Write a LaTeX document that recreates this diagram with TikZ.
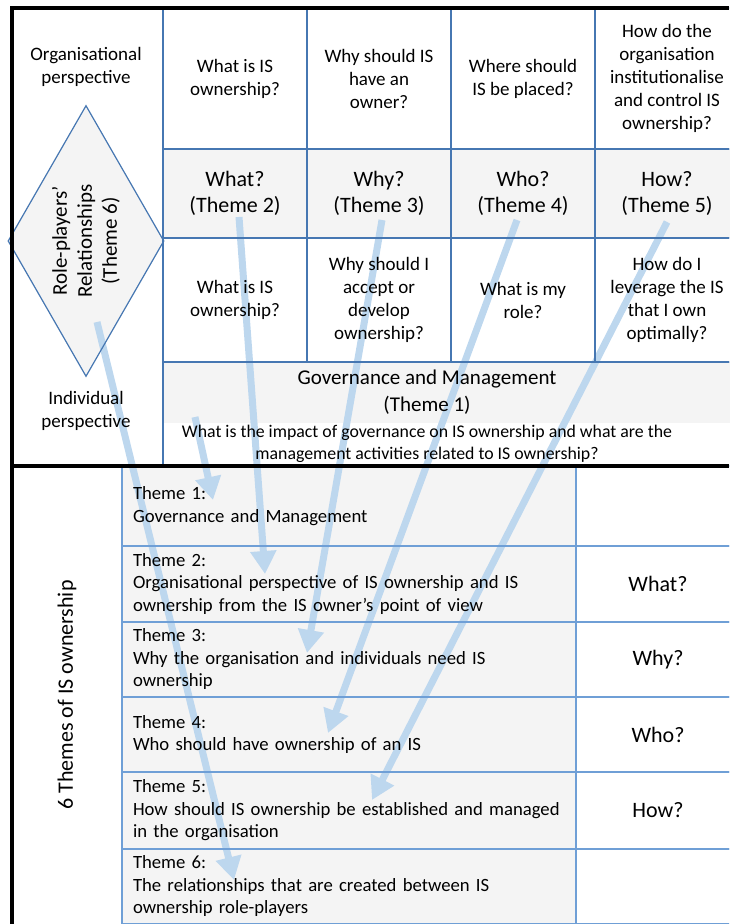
\documentclass[tikz,border=0pt]{standalone}
\usepackage{fontspec}
\setmainfont{Carlito}
\usetikzlibrary{shapes.geometric, arrows.meta, positioning}
\definecolor{gridblue}{HTML}{4677B2}
\definecolor{lineblue}{HTML}{6F9FD6}
\definecolor{cellgrey}{HTML}{F4F4F4}
\definecolor{flowblue}{HTML}{BDD7EE}
\newcommand{\qsize}{\fontsize{9.5}{11.5}\selectfont}
\newcommand{\wsize}{\fontsize{11}{13}\selectfont}
\newcommand{\gsize}{\fontsize{10.5}{13.5}\selectfont}
\newcommand{\isize}{\fontsize{8.9}{11}\selectfont}
\newcommand{\dsize}{\fontsize{10.5}{12.5}\selectfont}
\newcommand{\tsize}{\fontsize{9.35}{11.25}\selectfont}
\pgfdeclarelayer{back}
\pgfdeclarelayer{flows}
\pgfsetlayers{back,flows,main}
\tikzstyle{cell} = [rectangle, draw=gridblue, line width=1pt, minimum width=72pt, inner sep=2pt, outer sep=0pt, align=center]
\tikzstyle{qcell} = [cell, minimum height=70.5pt, font=\qsize]
\tikzstyle{wcell} = [cell, minimum height=44.5pt, font=\wsize]
\tikzstyle{icell} = [cell, minimum height=62pt, font=\qsize]
\tikzstyle{tcell} = [rectangle, draw=lineblue, line width=0.6pt, minimum height=37.5pt, text width=216pt, inner xsep=5.5pt, inner ysep=1pt, outer sep=0pt, align=left, font=\tsize]
\tikzstyle{kcell} = [rectangle, draw=lineblue, line width=0.6pt, minimum width=82pt, minimum height=37.5pt, outer sep=0pt, font=\wsize]
\tikzstyle{border} = [line width=1.6pt, black]
\tikzstyle{flow} = [line width=3.5pt, draw=flowblue, fill=flowblue, -{Triangle[width=12.5pt,length=11.5pt]}]

\begin{document}
\begin{tikzpicture}[x=0.5pt, y=-0.5pt]
    \path[use as bounding box] (0,0) rectangle (729,924);
    \clip (0,0) rectangle (729,924);
    % perspectives column
    \node (side) [cell, minimum width=75.5pt, minimum height=229pt, anchor=north west] at (12,8) {};
    \node (role) [diamond, draw=gridblue, line width=0.6pt, aspect=1.74, minimum width=135.5pt, minimum height=78pt, inner sep=0pt, rotate=90, align=center, font=\dsize] at (86,241) {Role-players’\\Relationships\\(Theme 6)};
    \node (org) [font=\qsize, align=center] at (86,67) {Organisational\\perspective};
    \node (ind) [font=\qsize, align=center] at (86,411) {Individual\\perspective};
    % question grid
    \node (qa1) [qcell, anchor=north west] at (163,8) {What is IS\\ownership?};
    \node (qa2) [qcell, right=0pt of qa1] {Why should IS\\have an\\owner?};
    \node (qa3) [qcell, right=0pt of qa2] {Where should\\IS be placed?};
    \node (qa4) [qcell, right=0pt of qa3] {How do the\\organisation\\institutionalise\\and control IS\\ownership?};
    \node (wb1) [wcell, below=0pt of qa1] {What?\\(Theme 2)};
    \node (wb2) [wcell, right=0pt of wb1] {Why?\\(Theme 3)};
    \node (wb3) [wcell, right=0pt of wb2] {Who?\\(Theme 4)};
    \node (wb4) [wcell, right=0pt of wb3] {How?\\(Theme 5)};
    \node (ic1) [icell, below=0pt of wb1] {What is IS\\ownership?};
    \node (ic2) [icell, right=0pt of ic1] {Why should I\\accept or\\develop\\ownership?};
    \node (ic3) [icell, right=0pt of ic2] {What is my\\role?};
    \node (ic4) [icell, right=0pt of ic3] {How do I\\leverage the IS\\that I own\\optimally?};
    % governance row
    \node (gov) [cell, minimum width=288pt, minimum height=52pt, anchor=north west] at (ic1.south west) {};
    \node (govtitle) [font=\gsize, align=center] at (427,392) {Governance and Management\\(Theme 1)};
    \node (govtext) [font=\isize, align=center] at (427,444) {What is the impact of governance on IS ownership and what are the\\management activities related to IS ownership?};
    % themes table
    \node (six) [font=\wsize, rotate=90] at (67,695) {6 Themes of IS ownership};
    \node (t1) [tcell, minimum height=40pt, anchor=north west] at (122,466) {Theme 1:\\Governance and Management};
    \node (t2) [tcell, minimum height=38pt, below=0pt of t1] {Theme 2:\\Organisational perspective of IS ownership and IS\\ownership from the IS owner’s point of view};
    \node (t3) [tcell, below=0pt of t2] {Theme 3:\\Why the organisation and individuals need IS\\ownership};
    \node (t4) [tcell, below=0pt of t3] {Theme 4:\\Who should have ownership of an IS};
    \node (t5) [tcell, minimum height=38.5pt, below=0pt of t4] {Theme 5:\\\mbox{How should IS ownership be established and managed}\\in the organisation};
    \node (t6) [tcell, below=0pt of t5] {Theme 6:\\The relationships that are created between IS\\ownership role-players};
    \node (k1) [kcell, minimum height=40pt, right=0pt of t1] {};
    \node (k2) [kcell, minimum height=38pt, right=0pt of t2] {What?};
    \node (k3) [kcell, right=0pt of t3] {Why?};
    \node (k4) [kcell, right=0pt of t4] {Who?};
    \node (k5) [kcell, minimum height=38.5pt, right=0pt of t5] {How?};
    \node (k6) [kcell, right=0pt of t6] {};
    % shaded cells
    \begin{pgfonlayer}{back}
        \fill[cellgrey] (role.north) -- (role.west) -- (role.south) -- (role.east) -- cycle;
        \fill[cellgrey] (wb1.north west) rectangle (wb4.south east);
        \fill[cellgrey] (gov.north west) rectangle ([yshift=-30.5pt]gov.north east);
        \fill[cellgrey] (t1.north west) rectangle (t6.south east);
    \end{pgfonlayer}
    % outer frame
    \draw[border] (729,8) -| (12,924);
    \draw[border] (12,466) -- (729,466);
    % theme arrows
    \coordinate (from1) at (195,417);
    \coordinate (to1) at (213,500);
    \coordinate (from2) at (239,217);
    \coordinate (to2) at (265,574);
    \coordinate (from3) at (382,220);
    \coordinate (to3) at (307,653);
    \coordinate (from4) at (517,220);
    \coordinate (to4) at (328,733);
    \coordinate (from5) at (667,222);
    \coordinate (to5) at (372,800);
    \coordinate (from6) at (97,322);
    \coordinate (to6) at (234,880);
    \begin{pgfonlayer}{flows}
        \draw[flow] (from1) -- (to1);
        \draw[flow] (from2) -- (to2);
        \draw[flow] (from3) -- (to3);
        \draw[flow] (from4) -- (to4);
        \draw[flow] (from5) -- (to5);
        \draw[flow] (from6) -- (to6);
    \end{pgfonlayer}
\end{tikzpicture}
\end{document}
